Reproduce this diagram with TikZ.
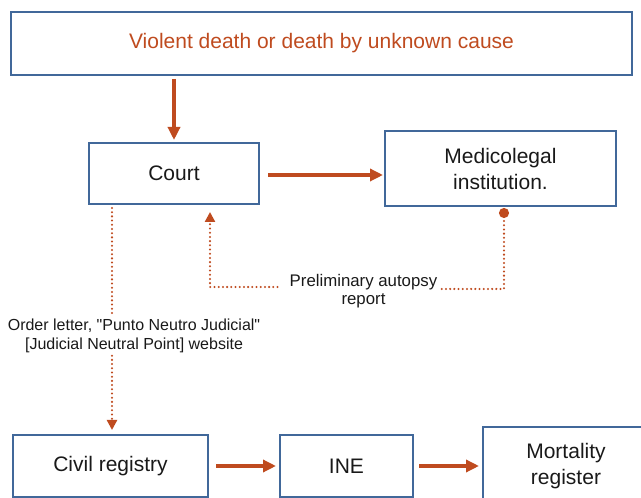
\documentclass[tikz,border=0pt]{standalone}
\usepackage{fontspec}
\setmainfont{Liberation Sans}[Ligatures=TeXOff]
\usetikzlibrary{arrows.meta,positioning}
\definecolor{boxblue}{HTML}{41689A}
\definecolor{flowred}{HTML}{BF4B1F}
\tikzset{
  box/.style={draw=boxblue, line width=2pt, inner sep=0pt, align=center,
    text=black!90, font=\fontsize{21}{26}\selectfont},
  flow/.style={draw=flowred, line width=3.5pt, -{Triangle[length=13pt,width=12pt]}},
  dotline/.style={draw=flowred, line width=2.3pt, line cap=round, dash pattern=on 0pt off 4.2pt},
  dottip/.style={-{Triangle[length=10pt,width=10pt]}},
  note/.style={font=\fontsize{16.8}{18.5}\selectfont, align=center, inner sep=2pt, text=black!90}
}

\begin{document}
\begin{tikzpicture}[x=1pt,y=1pt]
  \useasboundingbox (0,0) rectangle (641,498);
  % boxes
  \node[box, minimum width=621pt, minimum height=63pt, text=flowred] (cause) at (321.5,454.5)
    {Violent death or death by unknown cause};
  \node[box, minimum width=170pt, minimum height=61pt] (court) at (174,324.5) {Court};
  \node[box, minimum width=231pt, minimum height=75pt] (medico) at (500.5,329.5)
    {Medicolegal\\institution.};
  \node[box, minimum width=195pt, minimum height=62pt] (civil) at (110.5,32) {Civil registry};
  \node[box, minimum width=133pt, minimum height=62pt] (ine) at (346.5,32) {INE};
  \node[box, minimum width=166pt, minimum height=78pt] (mort) at (566,32) {Mortality\\register};
  % labels
  \node[note] (rep) at (363.5,207) {Preliminary autopsy\\report};
  \node[note, inner sep=3pt, font=\fontsize{16}{19}\selectfont] (ord) at (134,162.5)
    {Order letter, "Punto Neutro Judicial"\\{[Judicial Neutral Point] website}};
  \coordinate (mdot) at (504,290);
  \coordinate (cup) at (210,286);
  \coordinate (ltop) at (112,290);
  \coordinate (lbot) at (112,68);
  % solid flow
  \draw[flow, shorten <=3pt, shorten >=2pt] (cause.south -| court.north) -- (court.north);
  \draw[flow, shorten <=8pt, shorten >=1pt] ([yshift=-1.5pt]court.east) -- ([yshift=-1.5pt]court.east -| medico.west);
  \draw[flow, shorten <=7pt, shorten >=3pt] (civil.east) -- (ine.west);
  \draw[flow, shorten <=5pt, shorten >=3pt] (ine.east) -- (ine.east -| mort.west);
  % dotted flow
  \draw[dotline, {Circle[length=10pt]}-] (mdot) |- ([yshift=2pt]rep.east);
  \draw[dotline, dottip] ([xshift=-10pt,yshift=4pt]rep.west) -| (cup);
  \draw[dotline] (ltop) -- (ltop |- ord.north);
  \draw[dotline, dottip] (lbot |- ord.south) -- (lbot);
\end{tikzpicture}
\end{document}
